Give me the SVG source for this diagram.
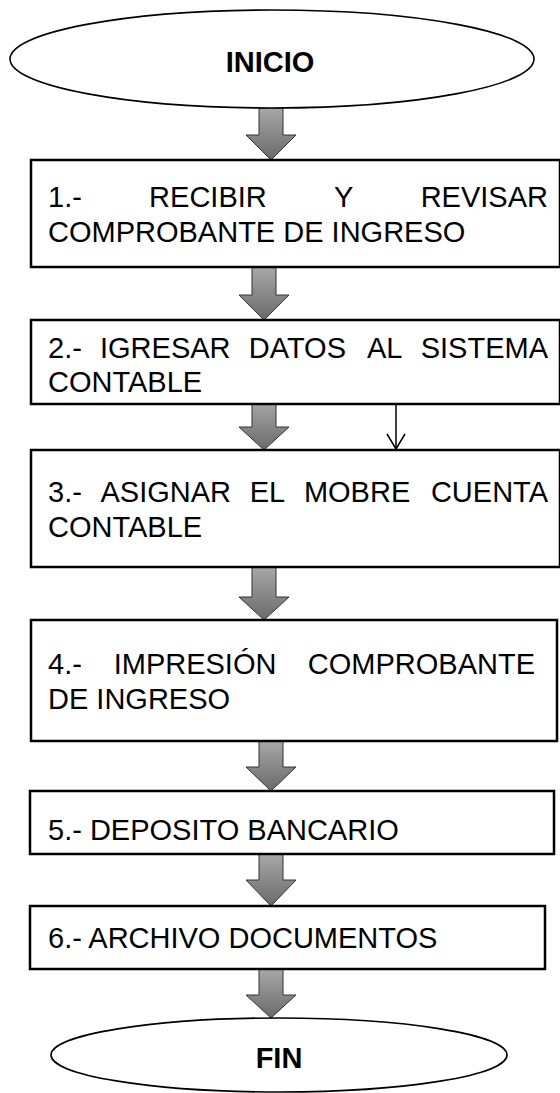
<svg xmlns="http://www.w3.org/2000/svg" width="560" height="1093" viewBox="0 0 560 1093">
<defs>
<linearGradient id="ag" x1="0" y1="0" x2="0" y2="1">
<stop offset="0" stop-color="#a8a8a8"/>
<stop offset="1" stop-color="#6a6a6a"/>
</linearGradient>
<marker id="vh" viewBox="0 0 20 20" refX="19" refY="10" markerWidth="20" markerHeight="20" markerUnits="userSpaceOnUse" orient="auto">
<path d="M4,1 L19,10 L4,19" fill="none" stroke="#000" stroke-width="1.5"/>
</marker>
</defs>
<style>
.box{fill:#fff;stroke:#000;stroke-width:2.5}
.term{fill:#fff;stroke:#000;stroke-width:1.6}
.t{font-family:"Liberation Sans",Arial,sans-serif;font-size:29px;fill:#000}
.e{text-anchor:end}
.b{font-family:"Liberation Sans",Arial,sans-serif;font-size:29px;font-weight:bold;fill:#000;text-anchor:middle}
.arr{fill:url(#ag);stroke:#333;stroke-width:1}
.thin{fill:none;stroke:#000;stroke-width:1.5}
</style>

<g id="connectors">
<path class="arr" d="M259,108 L283,108 L283,135 L296,135 L271,160 L246,135 L259,135 Z"/>
<path class="arr" d="M252,267 L276,267 L276,295 L289,295 L264,320 L239,295 L252,295 Z"/>
<path class="arr" d="M252,401 L276,401 L276,427 L289,427 L264,450 L239,427 L252,427 Z"/>
<path class="arr" d="M252,567 L276,567 L276,597 L289,597 L264,620 L239,597 L252,597 Z"/>
<path class="arr" d="M259,741 L283,741 L283,767 L296,767 L271,791 L246,767 L259,767 Z"/>
<path class="arr" d="M259,854 L283,854 L283,880 L296,880 L271,906 L246,880 L259,880 Z"/>
<path class="arr" d="M259,969 L283,969 L283,995 L296,995 L271,1018 L246,995 L259,995 Z"/>
<line class="thin" x1="396" y1="404" x2="396" y2="449" marker-end="url(#vh)"/>
</g>

<g id="inicio">
<ellipse class="term" cx="272" cy="59" rx="262" ry="49"/>
<text class="b" x="270" y="72">INICIO</text>
</g>

<g id="paso1">
<rect class="box" x="31" y="160" width="529" height="107"/>
<text class="t" x="48" y="207">1.-</text>
<text class="t" x="149.1" y="207">RECIBIR</text>
<text class="t" x="334" y="207">Y</text>
<text class="t e" x="548" y="207">REVISAR</text>
<text class="t" x="48" y="242">COMPROBANTE DE INGRESO</text>
</g>

<g id="paso2">
<rect class="box" x="31" y="320" width="529" height="84"/>
<text class="t" x="48" y="358">2.-</text>
<text class="t" x="100" y="358">IGRESAR</text>
<text class="t" x="248.8" y="358">DATOS</text>
<text class="t" x="367" y="358">AL</text>
<text class="t e" x="548" y="358">SISTEMA</text>
<text class="t" x="48" y="392">CONTABLE</text>
</g>

<g id="paso3">
<rect class="box" x="31" y="450" width="529" height="117"/>
<text class="t" x="48" y="502">3.-</text>
<text class="t" x="100.5" y="502">ASIGNAR</text>
<text class="t" x="249.7" y="502">EL</text>
<text class="t" x="303.9" y="502">MOBRE</text>
<text class="t e" x="548" y="502">CUENTA</text>
<text class="t" x="48" y="537">CONTABLE</text>
</g>

<g id="paso4">
<rect class="box" x="31" y="620" width="526" height="121"/>
<text class="t" x="48" y="674">4.-</text>
<text class="t" x="113.7" y="674">IMPRESIÓN</text>
<text class="t e" x="535" y="674">COMPROBANTE</text>
<text class="t" x="48" y="709">DE INGRESO</text>
</g>

<g id="paso5">
<rect class="box" x="30" y="791" width="524" height="63"/>
<text class="t" x="48" y="840">5.- DEPOSITO BANCARIO</text>
</g>

<g id="paso6">
<rect class="box" x="30" y="906" width="515" height="63"/>
<text class="t" x="48" y="948">6.- ARCHIVO DOCUMENTOS</text>
</g>

<g id="fin">
<ellipse class="term" cx="279" cy="1055" rx="228" ry="37"/>
<text class="b" x="279" y="1068">FIN</text>
</g>
</svg>
